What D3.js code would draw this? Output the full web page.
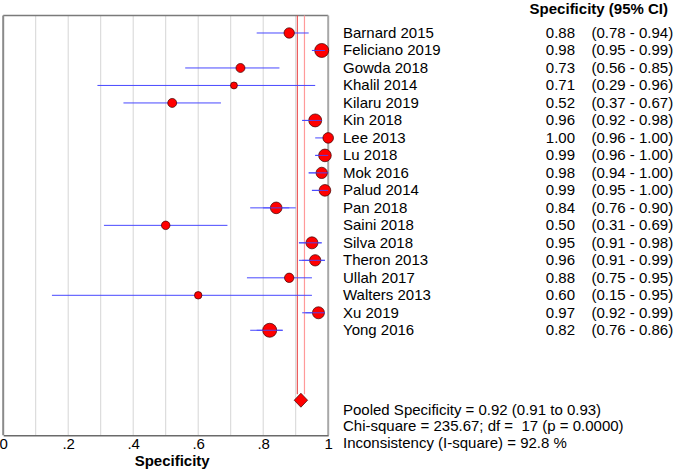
<!DOCTYPE html>
<html>
<head>
<meta charset="utf-8">
<script src="https://cdn.jsdelivr.net/npm/d3@7/dist/d3.min.js"></script>
<style>
  html, body { margin: 0; padding: 0; background: #fff; }
  svg { display: block; font-family: "Liberation Sans", Arial, sans-serif; }
  text { white-space: pre; }
</style>
</head>
<body>
<svg id="chart" width="675" height="472"></svg>
<script>
const studies = ["Barnard 2015","Feliciano 2019","Gowda 2018","Khalil 2014","Kilaru 2019","Kin 2018","Lee 2013","Lu 2018","Mok 2016","Palud 2014","Pan 2018","Saini 2018","Silva 2018","Theron 2013","Ullah 2017","Walters 2013","Xu 2019","Yong 2016"];
const specificity = [0.88,0.98,0.73,0.71,0.52,0.96,1.00,0.99,0.98,0.99,0.84,0.50,0.95,0.96,0.88,0.60,0.97,0.82];
const ciLower = [0.78,0.95,0.56,0.29,0.37,0.92,0.96,0.96,0.94,0.95,0.76,0.31,0.91,0.91,0.75,0.15,0.92,0.76];
const ciUpper = [0.94,0.99,0.85,0.96,0.67,0.98,1.00,1.00,1.00,1.00,0.90,0.69,0.98,0.99,0.95,0.95,0.99,0.86];
const weights = [27,49,20,12,20,42,28,40,32,34,34,18,36,32,22,14,36,49];
const pooledEstimate = 0.916;
const pooledLines = [0.905, 0.927];
const tickValues = [0,0.2,0.4,0.6,0.8,1];
const tickLabels = ["0",".2",".4",".6",".8","1"];
const gridValues = [0.1,0.2,0.3,0.4,0.5,0.6,0.7,0.8,0.9];
const headerText = "Specificity (95% CI)";
const axisTitle = "Specificity";
const footerLines = ["Pooled Specificity = 0.92 (0.91 to 0.93)","Chi-square = 235.67; df =  17 (p = 0.0000)","Inconsistency (I-square) = 92.8 %"];

(function () {
const svg = d3.select("#chart");
const FONT = 15;

const x = d3.scaleLinear().domain([0,1]).range([3.2,328.2]);
const y = d3.scaleLinear().domain([-1,23]).range([15.5,435.2]);
const r = d3.scaleSqrt().domain([0,49]).range([0,7]);

const yTop = y(-1), yBottom = y(23);

// gridlines
svg.append("g").selectAll("line").data(gridValues).join("line")
  .attr("x1", d => x(d)).attr("x2", d => x(d))
  .attr("y1", yTop).attr("y2", yBottom)
  .attr("stroke", "#d6d6d6").attr("stroke-width", 1);

// frame
svg.append("line").attr("x1", x(0)).attr("x2", x(1)).attr("y1", yTop).attr("y2", yTop)
  .attr("stroke", "#7a7a7a").attr("stroke-width", 1.5);
svg.append("line").attr("x1", x(1)).attr("x2", x(1)).attr("y1", yTop).attr("y2", yBottom)
  .attr("stroke", "#a8a8a8").attr("stroke-width", 2);
svg.append("line").attr("x1", x(0)).attr("x2", x(0)).attr("y1", yTop).attr("y2", yBottom)
  .attr("stroke", "#8a8a8a").attr("stroke-width", 2);

// pooled lines
const diamondY = y(21);
svg.append("line").attr("x1", x(pooledLines[0])).attr("x2", x(pooledLines[0]))
  .attr("y1", yTop).attr("y2", diamondY - 6).attr("stroke", "#e83a3a").attr("stroke-width", 1);
svg.append("line").attr("x1", x(pooledLines[1])).attr("x2", x(pooledLines[1]))
  .attr("y1", yTop).attr("y2", diamondY - 6).attr("stroke", "#ff9a9a").attr("stroke-width", 1.2);

// bottom axis
const axis = d3.axisBottom(x).tickValues(tickValues)
  .tickFormat((d, i) => tickLabels[i]).tickSize(0).tickPadding(3);
const ag = svg.append("g").attr("transform", `translate(0,${yBottom})`).call(axis);
ag.select(".domain").attr("stroke", "#6a6a6a").attr("stroke-width", 1.5);
ag.selectAll("text").attr("font-size", FONT).attr("font-family", "Liberation Sans, Arial, sans-serif")
  .attr("fill", "#000").attr("dy", "0.72em");

svg.append("text").attr("x", x(0.52)).attr("y", 466).attr("text-anchor", "middle")
  .attr("font-size", FONT).attr("font-weight", "bold").text(axisTitle);

// CI lines
const rows = studies.map((s, i) => ({s, i, v: specificity[i], lo: ciLower[i], hi: ciUpper[i], w: weights[i]}));
svg.append("g").selectAll("line").data(rows).join("line")
  .attr("x1", d => x(d.lo)).attr("x2", d => x(d.hi))
  .attr("y1", d => y(d.i)).attr("y2", d => y(d.i))
  .attr("stroke", "#4848ff").attr("stroke-width", 1);

// points
svg.append("g").selectAll("circle").data(rows).join("circle")
  .attr("cx", d => x(d.v)).attr("cy", d => y(d.i)).attr("r", d => r(d.w))
  .attr("fill", "#ff0000").attr("stroke", "#3a0000").attr("stroke-width", 0.7);

// CI line segment visible across larger circles
svg.append("g").selectAll("line").data(rows).join("line")
  .attr("x1", d => x(Math.max(d.lo, d.v - 0.04))).attr("x2", d => x(Math.min(d.hi, d.v + 0.04)))
  .attr("y1", d => y(d.i)).attr("y2", d => y(d.i))
  .attr("stroke", "#4848ff").attr("stroke-width", 1)
  .attr("opacity", d => r(d.w) > 5.5 ? 0.9 : 0);

// diamond
const dx = x(pooledEstimate);
svg.append("path")
  .attr("d", `M${dx},${diamondY-7} L${dx+6.7},${diamondY} L${dx},${diamondY+7} L${dx-6.7},${diamondY} Z`)
  .attr("fill", "#ff0000").attr("stroke", "#3a0000").attr("stroke-width", 0.7);

// header
svg.append("text").attr("x", 668).attr("y", 13.5).attr("text-anchor", "end")
  .attr("font-size", FONT).attr("font-weight", "bold").text(headerText);

// table text
const tg = svg.append("g").attr("font-size", FONT).attr("fill", "#000");
tg.selectAll("text.name").data(rows).join("text").attr("class", "name")
  .attr("x", 343).attr("y", d => y(d.i) + 5).text(d => d.s);
tg.selectAll("text.val").data(rows).join("text").attr("class", "val")
  .attr("x", 575).attr("y", d => y(d.i) + 5).attr("text-anchor", "end")
  .text(d => d.v.toFixed(2));
tg.selectAll("text.ci").data(rows).join("text").attr("class", "ci")
  .attr("x", 591.5).attr("y", d => y(d.i) + 5)
  .text(d => `(${d.lo.toFixed(2)} - ${d.hi.toFixed(2)})`);

// footer
tg.selectAll("text.foot").data(footerLines).join("text").attr("class", "foot")
  .attr("x", 343).attr("y", (d, i) => 414.5 + i * 16.6).text(d => d);
})();
</script>
</body>
</html>
